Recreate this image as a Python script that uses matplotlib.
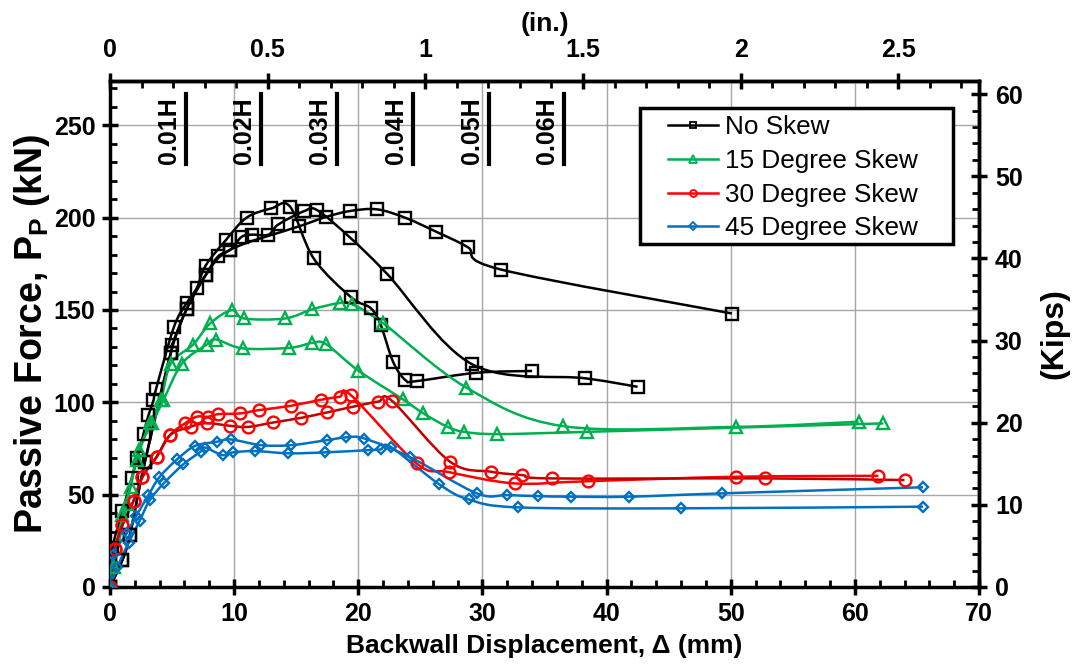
import matplotlib
matplotlib.use("Agg")
import matplotlib.pyplot as plt
import numpy as np
from matplotlib.path import Path
from matplotlib.patches import PathPatch, Rectangle
from matplotlib.lines import Line2D
from matplotlib.ticker import MultipleLocator, FuncFormatter

plt.rcParams['font.family'] = ['Liberation Sans', 'DejaVu Sans']
plt.rcParams['mathtext.default'] = 'regular'

# ---- data (displacement in mm, force in kN) ----
ns_a_x = [0, 0.2, 1.0, 1.75, 2.2, 2.7, 3.1, 3.5, 3.7, 5.16, 6.2, 7.0, 7.7, 9.35, 11.0, 13.0, 14.5,
          16.4, 19.4, 21.0, 21.8, 22.8, 23.8, 24.7, 29.5, 34.0]
ns_a_y = [0, 21, 41, 59, 70, 83, 93, 101, 107, 141, 154, 162, 174, 188, 200, 205, 206,
          178, 157, 151, 142, 122, 112, 111.5, 116, 117]
ns_b_x = [0, 1.0, 1.6, 2.8, 4.9, 5.0, 6.2, 7.7, 8.7, 9.7, 10.6, 11.4, 12.76, 13.56, 15.63, 16.7,
          19.34, 22.3, 29.2, 38.3, 42.5]
ns_b_y = [0, 14.6, 28, 67.5, 126.8, 131, 150.8, 168.8, 179, 182.7, 189.6, 190.8, 190.8, 196.3, 203.5, 204,
          189.2, 169.7, 120.5, 113, 108.4]
ns_c_x = [0, 1.0, 1.6, 2.8, 4.9, 6.2, 7.7, 9.7, 15.23, 17.4, 19.34, 21.5, 23.8, 26.3, 28.8, 31.5, 50.1]
ns_c_y = [0, 14.6, 28, 67.5, 126.8, 150.8, 168.8, 182.7, 195.3, 200.4, 203.6, 204.5, 199.9, 192.3, 184.1,
          171.9, 148.1]

s15_a_x = [0, 0.32, 1.0, 1.67, 2.15, 3.2, 4.1, 4.9, 6.7, 8.06, 9.8, 10.8, 14.1, 16.3, 18.5, 19.5, 22.0,
           28.7, 36.5, 50.4, 60.3]
s15_a_y = [0, 11, 39, 54.3, 69, 88.6, 101.2, 121, 131.3, 142.7, 149.9, 145.4, 145.4, 150.4, 153.8, 153.1,
           142.8, 108, 87.1, 86.7, 89.5]
s15_b_x = [0, 1.35, 2.3, 3.4, 4.3, 5.8, 7.8, 8.54, 10.7, 14.45, 16.3, 17.4, 20.0, 23.6, 25.25, 27.2,
           28.55, 31.2, 38.4, 62.3]
s15_b_y = [0, 45, 74.1, 88.6, 101.2, 121, 131.3, 134, 129.2, 129.5, 132.2, 131.5, 117.2, 101.6, 94, 86.7,
           84, 82.8, 84, 88.6]

s30_a_x = [0, 0.4, 1.0, 1.9, 2.6, 3.76, 4.84, 6.04, 6.98, 7.9, 8.73, 10.5, 12.0, 14.56, 17.0, 18.5,
           19.4, 24.7, 27.3, 32.6, 38.5, 50.4, 61.9]
s30_a_y = [0, 20.4, 33.5, 46.7, 59.4, 70.5, 82.3, 88.6, 92.2, 92.2, 93.6, 94, 95.8, 98.1, 101.4, 103,
           103.9, 66.9, 62.2, 56.1, 57.3, 59.7, 60.2]
s30_b_x = [0, 0.4, 1.0, 1.9, 2.6, 3.76, 4.84, 6.5, 7.8, 9.67, 11.15, 13.16, 15.4, 17.46, 19.56, 21.6,
           22.7, 27.4, 30.7, 33.2, 35.6, 52.8, 64.0]
s30_b_y = [0, 20.4, 33.5, 46.7, 59.4, 70.5, 82.3, 86.8, 88.7, 87.3, 86.7, 89.1, 91.6, 94.5, 97.6, 100.4,
           100.9, 67.8, 62.4, 60.6, 58.8, 58.8, 57.9]

s45_a_x = [0, 0.27, 1.34, 2.1, 3.1, 3.97, 5.4, 6.85, 8.6, 9.72, 12.2, 14.56, 17.46, 19.0, 20.5, 24.2,
           29.55, 32.0, 34.5, 37.1, 41.8, 49.3, 65.5]
s45_a_y = [0, 17.3, 29, 38.4, 49.8, 59.4, 69.1, 76.4, 78.6, 79.9, 76.8, 76.8, 79.5, 81, 80.4, 70.2,
           50.7, 49.8, 49.2, 48.9, 48.9, 50.7, 54]
s45_b_x = [0, 0.6, 1.5, 2.4, 3.2, 4.35, 5.9, 7.3, 7.66, 9.08, 9.9, 11.7, 14.37, 17.3, 20.8, 21.8, 22.6,
           26.5, 28.9, 32.9, 46.0, 65.5]
s45_b_y = [0, 11, 24, 36, 47, 56.3, 66.4, 73.3, 75.5, 71.4, 72.9, 73.6, 72.4, 72.9, 74.1, 74.5, 75.9,
           55.7, 47.4, 43.1, 42.6, 43.5]

labels = ['No Skew', '15 Degree Skew', '30 Degree Skew', '45 Degree Skew']
wall_h = 610  # mm
h_fracs = [0.01, 0.02, 0.03, 0.04, 0.05, 0.06]


def smooth_path(x, y):
    # excel-like smoothed line: catmull-rom turned into cubic bezier segments
    p = np.column_stack([x, y]).astype(float)
    n = len(p)
    verts = [p[0]]
    codes = [Path.MOVETO]
    for i in range(n - 1):
        p0 = p[i - 1] if i > 0 else p[i]
        p3 = p[i + 2] if i + 2 < n else p[i + 1]
        verts += [p[i] + (p[i + 1] - p0) / 6, p[i + 1] - (p3 - p[i]) / 6, p[i + 1]]
        codes += [Path.CURVE4] * 3
    return Path(verts, codes)


def draw(ax, x, y, color, marker, ms, lcolor=None):
    ax.add_patch(PathPatch(smooth_path(x, y), fill=False, edgecolor=lcolor or color, lw=1.8, zorder=3))
    ax.plot(x, y, ls='none', marker=marker, ms=ms, mfc='none', mec=color, mew=1.7, zorder=4)


fig = plt.figure(figsize=(10.79, 6.70), dpi=100)
ax = fig.add_axes([110 / 1079, 83 / 670, 869 / 1079, 506 / 670])

black, green, red, dred, blue = 'black', '#00B050', '#FF0000', '#C00000', '#0070C0'
draw(ax, ns_a_x, ns_a_y, black, 's', 8)
draw(ax, ns_b_x, ns_b_y, black, 's', 8)
draw(ax, ns_c_x, ns_c_y, black, 's', 8)
draw(ax, s15_a_x, s15_a_y, green, '^', 8.5)
draw(ax, s15_b_x, s15_b_y, green, '^', 8.5)
draw(ax, s30_a_x, s30_a_y, red, 'o', 8.5)
draw(ax, s30_b_x, s30_b_y, red, 'o', 8.5, lcolor=dred)
draw(ax, s45_a_x, s45_a_y, blue, 'D', 5.5)
draw(ax, s45_b_x, s45_b_y, blue, 'D', 5.5)

ax.set_xlim(0, 70)
ax.set_ylim(0, 274)
ax.xaxis.set_major_locator(MultipleLocator(10))
ax.xaxis.set_minor_locator(MultipleLocator(2))
ax.yaxis.set_minor_locator(MultipleLocator(10))
ax.set_yticks(np.arange(0, 251, 50))
ax.grid(which='major', color='#A6A6A6', lw=1.0)
ax.set_axisbelow(True)

tick_kw = dict(labelsize=18)
ax.tick_params(which='major', direction='inout', length=11, width=2.5, pad=5, **tick_kw)
ax.tick_params(which='minor', direction='in', length=5, width=2)
for s in ax.spines.values():
    s.set_linewidth(2.5)
for lab in ax.get_xticklabels() + ax.get_yticklabels():
    lab.set_fontweight('bold')

ax.set_xlabel('Backwall Displacement, \u0394 (mm)', fontsize=19, fontweight='bold', labelpad=6)
ax.set_ylabel('Passive Force, P$_P$ (kN)', fontsize=27, fontweight='bold', labelpad=1)

# secondary axes: inches on top, kips on right
top = ax.secondary_xaxis('top', functions=(lambda v: v / 25.4, lambda v: v * 25.4))
top.set_xticks(np.arange(0, 2.51, 0.5))
top.xaxis.set_minor_locator(MultipleLocator(0.1))
top.xaxis.set_major_formatter(FuncFormatter(lambda v, p: f'{v:g}'))
top.tick_params(which='major', direction='inout', length=11, width=2.5, pad=8, **tick_kw)
top.tick_params(which='minor', direction='in', length=5, width=2)
top.set_xlabel('(in.)', fontsize=19, fontweight='bold', labelpad=5)
for lab in top.get_xticklabels():
    lab.set_fontweight('bold')

right = ax.secondary_yaxis('right', functions=(lambda v: v / 4.448222, lambda v: v * 4.448222))
right.set_yticks(np.arange(0, 61, 10))
right.yaxis.set_minor_locator(MultipleLocator(2))
right.tick_params(which='major', direction='inout', length=11, width=2.5, pad=6, **tick_kw)
right.tick_params(which='minor', direction='in', length=5, width=2)
right.set_ylabel('(Kips)', fontsize=23, fontweight='bold', labelpad=12)
for lab in right.get_yticklabels():
    lab.set_fontweight('bold')
for sec in (top, right):
    for s in sec.spines.values():
        s.set_linewidth(2.5)

# drift markers (fractions of wall height)
for f in h_fracs:
    xd = f * wall_h
    ax.plot([xd, xd], [229, 267], color='black', lw=3, zorder=5)
    ax.text(xd - 0.4, 229, f'{f:.2f}H', rotation=90, ha='right', va='bottom',
            fontsize=18, fontweight='bold', zorder=5)

# legend: white box drawn separately so its padding can match the original
ax.add_patch(Rectangle((0.610, 0.678), 0.360, 0.269, transform=ax.transAxes, facecolor='white',
                       edgecolor='black', lw=2.5, zorder=6))
handles = [
    Line2D([], [], color=black, marker='s', ms=5, mfc='none', mew=1.3, lw=1.8),
    Line2D([], [], color=green, marker='^', ms=5.5, mfc='none', mew=1.3, lw=1.8),
    Line2D([], [], color=red, marker='o', ms=5, mfc='none', mew=1.3, lw=1.8),
    Line2D([], [], color=blue, marker='D', ms=4, mfc='none', mew=1.3, lw=1.8),
]
leg = ax.legend(handles, labels, loc='upper left', bbox_to_anchor=(0.642, 0.932), borderaxespad=0,
                fontsize=18.8, handlelength=1.92, handletextpad=0.27, labelspacing=0.37,
                borderpad=0, frameon=False)
leg.set_zorder(7)

fig.savefig('out.png', dpi=100)
